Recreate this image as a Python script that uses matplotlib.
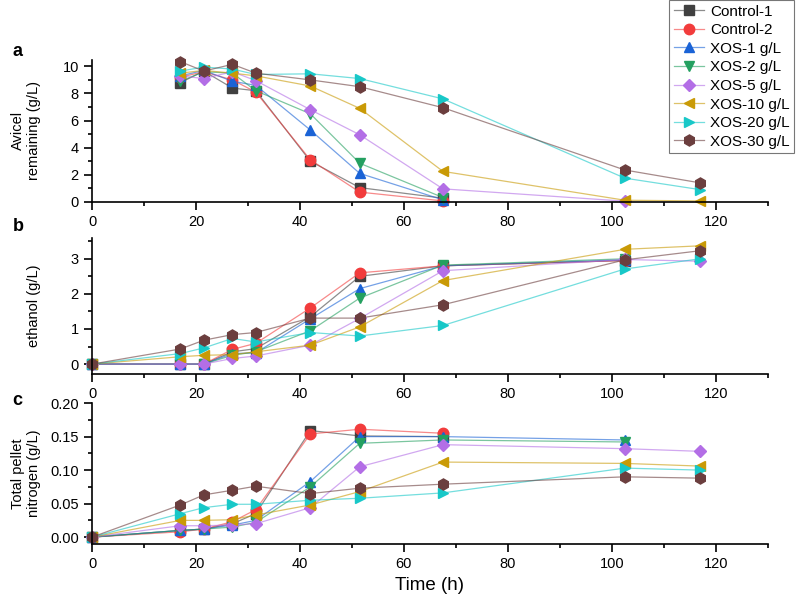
import numpy as np
import matplotlib
matplotlib.use("Agg")
import matplotlib.pyplot as plt
from matplotlib.ticker import MultipleLocator

plt.rcParams["font.family"] = ["Liberation Sans", "DejaVu Sans"]

nan = np.nan
time_h = [0, 17, 21.5, 27, 31.5, 42, 51.5, 67.5, 102.5, 117]

series_names = ["Control-1", "Control-2", "XOS-1 g/L", "XOS-2 g/L",
                "XOS-5 g/L", "XOS-10 g/L", "XOS-20 g/L", "XOS-30 g/L"]

# panel a: Avicel remaining (g/L)
avicel = {
    "Control-1": [nan, 8.8, 9.65, 8.4, 8.2, 3.0, 1.05, 0.27, nan, nan],
    "Control-2": [nan, 9.2, 9.6, 9.0, 8.1, 3.1, 0.72, 0.07, nan, nan],
    "XOS-1 g/L": [nan, 9.3, 9.7, 8.9, 8.6, 5.3, 2.1, 0.15, nan, nan],
    "XOS-2 g/L": [nan, 8.9, 9.6, 9.5, 8.2, 6.5, 2.85, 0.32, nan, nan],
    "XOS-5 g/L": [nan, 9.3, 9.1, 9.6, 8.95, 6.8, 4.95, 0.96, 0.05, nan],
    "XOS-10 g/L": [nan, 9.5, 9.7, 9.5, 9.3, 8.55, 6.9, 2.25, 0.12, 0.07],
    "XOS-20 g/L": [nan, 9.65, 9.95, 9.8, 9.4, 9.45, 9.1, 7.6, 1.75, 0.9],
    "XOS-30 g/L": [nan, 10.35, 9.65, 10.15, 9.5, 9.0, 8.5, 6.95, 2.35, 1.4],
}

# panel b: ethanol (g/L)
ethanol = {
    "Control-1": [0, 0.0, 0.0, 0.35, 0.44, 1.35, 2.5, 2.8, 2.95, nan],
    "Control-2": [0, 0.0, 0.0, 0.42, 0.59, 1.6, 2.6, 2.8, 2.95, nan],
    "XOS-1 g/L": [0, 0.0, 0.0, 0.3, 0.32, 1.29, 2.15, 2.8, 2.97, nan],
    "XOS-2 g/L": [0, 0.0, 0.0, 0.25, 0.35, 0.95, 1.88, 2.82, 3.0, nan],
    "XOS-5 g/L": [0, 0.0, 0.0, 0.16, 0.23, 0.54, 1.3, 2.66, 2.98, 2.93],
    "XOS-10 g/L": [0, 0.21, 0.25, 0.27, 0.35, 0.54, 1.06, 2.38, 3.27, 3.37],
    "XOS-20 g/L": [0, 0.3, 0.46, 0.73, 0.63, 0.9, 0.8, 1.1, 2.71, 3.0],
    "XOS-30 g/L": [0, 0.43, 0.68, 0.84, 0.9, 1.31, 1.31, 1.69, 2.97, 3.23],
}

# panel c: total pellet nitrogen (g/L)
nitrogen = {
    "Control-1": [0, 0.01, 0.012, 0.02, 0.035, 0.159, 0.151, 0.15, nan, nan],
    "Control-2": [0, 0.008, 0.012, 0.023, 0.041, 0.154, 0.161, 0.155, nan, nan],
    "XOS-1 g/L": [0, 0.01, 0.012, 0.018, 0.025, 0.083, 0.15, 0.15, 0.145, nan],
    "XOS-2 g/L": [0, 0.01, 0.012, 0.015, 0.022, 0.075, 0.14, 0.145, 0.142, nan],
    "XOS-5 g/L": [0, 0.017, 0.017, 0.018, 0.02, 0.044, 0.105, 0.138, 0.132, 0.128],
    "XOS-10 g/L": [0, 0.025, 0.025, 0.026, 0.033, 0.048, 0.068, 0.112, 0.11, 0.106],
    "XOS-20 g/L": [0, 0.035, 0.044, 0.049, 0.049, 0.055, 0.058, 0.066, 0.103, 0.1],
    "XOS-30 g/L": [0, 0.048, 0.063, 0.07, 0.076, 0.065, 0.073, 0.079, 0.09, 0.088],
}

colors = ["#404040", "#f23c3c", "#1a63d6", "#24a060",
          "#b36ee6", "#c99a06", "#18c8c8", "#6b3e3e"]
markers = ["s", "o", "^", "v", "D", "<", ">", "h"]
msizes = [6.5, 7.5, 7.5, 7.5, 6.5, 7.5, 7.5, 8]


def style_axis(ax, ylim, ymajor, yminor, yfmt):
    ax.set_xlim(0, 130)
    ax.set_ylim(*ylim)
    ax.xaxis.set_minor_locator(MultipleLocator(10))
    ax.yaxis.set_major_locator(MultipleLocator(ymajor))
    ax.yaxis.set_minor_locator(MultipleLocator(yminor))
    ax.set_xticks([0, 20, 40, 60, 80, 100, 120])
    ax.yaxis.set_major_formatter(yfmt)
    for s in ["top", "right"]:
        ax.spines[s].set_visible(False)
    for s in ["left", "bottom"]:
        ax.spines[s].set_linewidth(1.2)
    ax.tick_params(which="major", direction="out", length=6, width=1.2, labelsize=10.5)
    ax.tick_params(which="minor", direction="out", length=3, width=1.2)


fig = plt.figure(figsize=(7.96, 6.08), dpi=100)
ax_a = fig.add_axes([0.1156, 0.668, 0.849, 0.234])
ax_b = fig.add_axes([0.1156, 0.385, 0.849, 0.224])
ax_c = fig.add_axes([0.1156, 0.105, 0.849, 0.232])

panels = [(ax_a, avicel), (ax_b, ethanol), (ax_c, nitrogen)]
for ax, data in panels:
    for name, c, m, ms in zip(series_names, colors, markers, msizes):
        rgb = matplotlib.colors.to_rgb(c)
        ax.plot(time_h, data[name], color=(*rgb, 0.6), lw=0.9,
                marker=m, markersize=ms, markerfacecolor=c,
                markeredgecolor=c, label=name, clip_on=False)

style_axis(ax_a, (0, 10.5), 2, 1, "{x:g}")
style_axis(ax_b, (-0.28, 3.6), 1, 0.5, "{x:g}")
style_axis(ax_c, (-0.0105, 0.2), 0.05, 0.025, "{x:.2f}")

ax_a.set_ylabel("Avicel\nremaining (g/L)", fontsize=10.5)
ax_b.set_ylabel("ethanol (g/L)", fontsize=10.5)
ax_c.set_ylabel("Total pellet\nnitrogen (g/L)", fontsize=10.5)
for ax in [ax_a, ax_b, ax_c]:
    ax.yaxis.set_label_coords(-0.075, 0.5)
ax_c.set_xlabel("Time (h)", fontsize=13.5)

fig.text(0.016, 0.915, "a", fontsize=13, fontweight="bold", va="center")
fig.text(0.016, 0.627, "b", fontsize=13, fontweight="bold", va="center")
fig.text(0.016, 0.342, "c", fontsize=13, fontweight="bold", va="center")

handles, labels = ax_a.get_legend_handles_labels()
leg = fig.legend(handles, labels, loc="upper right", bbox_to_anchor=(0.998, 1.0),
                 fontsize=11, frameon=True, fancybox=False, edgecolor="#555555",
                 handlelength=2.0, handletextpad=0.4, labelspacing=0.3,
                 borderpad=0.3, borderaxespad=0.0)
leg.get_frame().set_linewidth(0.8)

fig.savefig("out.png", dpi=100)
